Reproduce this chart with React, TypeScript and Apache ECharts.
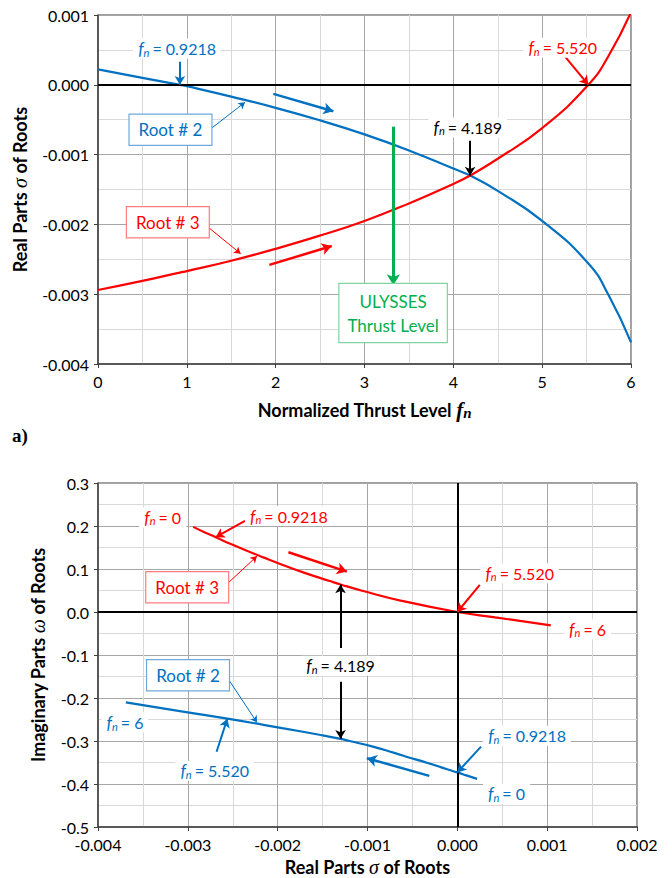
import React, { useEffect, useRef } from "react";
import * as echarts from "echarts";

// Normalized thrust level and the corresponding roots (sigma + i*omega)
const FN = [0, 0.5, 0.9218, 1, 1.5, 2, 2.5, 3, 3.5, 4, 4.189, 4.5, 5, 5.52, 5.75, 6];
const SIGMA_ROOT2 = [0.00022, 0.0001, 0, -0.00002, -0.00017, -0.00033, -0.00051, -0.00071, -0.00094, -0.0012, -0.0013, -0.00152, -0.00195, -0.00256, -0.00302, -0.00369];
const SIGMA_ROOT3 = [-0.00294, -0.00281, -0.00269, -0.00267, -0.00252, -0.00235, -0.00216, -0.00195, -0.0017, -0.00142, -0.0013, -0.00106, -0.00062, 0, 0.00042, 0.00104];
const OMEGA_ROOT2 = [-0.388, -0.38, -0.373, -0.372, -0.362, -0.351, -0.34, -0.327, -0.313, -0.3, -0.295, -0.286, -0.27, -0.248, -0.233, -0.21];
const OMEGA_ROOT3 = [0.198, 0.185, 0.174, 0.172, 0.158, 0.143, 0.127, 0.11, 0.091, 0.072, 0.064, 0.0495, 0.026, 0, -0.0125, -0.031];

// Axis ticks
const FN_TICKS = [0, 6, 1];
const SIGMA_TICKS_TOP = [-0.004, 0.001, 0.001];
const SIGMA_TICKS_BOTTOM = [-0.004, 0.002, 0.001];
const OMEGA_TICKS = [-0.5, 0.3, 0.1];

const BLUE = "#0070C0";
const RED = "#FF0000";
const GREEN = "#00B050";
const FONT = "Lato, 'Open Sans', sans-serif";
const SERIF = "'Liberation Serif', serif";

const idx = (f: number) => FN.indexOf(f);

const fnRich = (color: string) => ({
  f: { fontStyle: "italic", fontSize: 17, color, fontFamily: FONT },
  n: { fontStyle: "italic", fontSize: 11, color, fontFamily: FONT, verticalAlign: "bottom", padding: [7, 3, 0, 0] },
  t: { fontSize: 16, color, fontFamily: FONT },
});

function fnNote(coord: number[], text: string, color: string) {
  return {
    coord,
    symbol: "rect",
    symbolSize: 1,
    itemStyle: { color: "rgba(0,0,0,0)" },
    label: {
      show: true,
      position: "inside",
      formatter: `{f|f}{n|n}{t|= ${text}}`,
      rich: fnRich(color),
      backgroundColor: "#ffffff",
      padding: [1, 5],
    },
  };
}

function boxNote(coord: number[], text: string, color: string, border: string, lineHeight = 20, padding = [5, 9]) {
  return {
    coord,
    symbol: "rect",
    symbolSize: 1,
    itemStyle: { color: "rgba(0,0,0,0)" },
    label: {
      show: true,
      position: "inside",
      formatter: text,
      color,
      fontSize: 17,
      fontFamily: FONT,
      lineHeight,
      backgroundColor: "#ffffff",
      borderColor: border,
      borderWidth: 1.2,
      padding,
      align: "center",
    },
  };
}

function arrow(from: number[], to: number[], color: string, width: number, head: number) {
  return [
    { coord: from, symbol: "none", lineStyle: { color, width, type: "solid" } },
    { coord: to, symbol: "arrow", symbolSize: [head, head * 1.1], lineStyle: { color, width, type: "solid" } },
  ];
}

const axisCommon = {
  type: "value",
  axisLine: { show: true, onZero: false, lineStyle: { color: "#404040", width: 1.5 } },
  axisTick: { show: true, length: 4, lineStyle: { color: "#404040" } },
  axisLabel: { color: "#000", fontSize: 16, fontFamily: FONT, margin: 9 },
  splitLine: { show: true, lineStyle: { color: "#a6a6a6", width: 1 } },
  minorTick: { show: false, splitNumber: 2 },
  minorSplitLine: { show: true, lineStyle: { color: "#d9d9d9", width: 1 } },
  nameLocation: "middle",
};

const boldRich = {
  b: { fontWeight: "bold", fontSize: 18, color: "#000", fontFamily: FONT },
  s: { fontStyle: "italic", fontSize: 20, color: "#000", fontFamily: SERIF },
  f: { fontStyle: "italic", fontWeight: "bold", fontSize: 21, color: "#000", fontFamily: SERIF },
  n: { fontStyle: "italic", fontWeight: "bold", fontSize: 15, color: "#000", fontFamily: SERIF, verticalAlign: "bottom", padding: [6, 0, 0, 0] },
};

const fix3 = (v: number) => (Math.abs(v) < 1e-9 ? "0.000" : v.toFixed(3));
const fix1 = (v: number) => (Math.abs(v) < 1e-9 ? "0.0" : v.toFixed(1));

const curve = (data: number[][], color: string, xAxisIndex: number, name: string) => ({
  name,
  type: "line",
  xAxisIndex,
  yAxisIndex: xAxisIndex,
  data,
  smooth: 0.5,
  showSymbol: false,
  clip: true,
  lineStyle: { color, width: 2.2 },
  z: 4,
});

export default function App() {
  const ref = useRef<HTMLDivElement>(null);

  useEffect(() => {
    if (!ref.current) return;
    const chart = echarts.init(ref.current, null, { renderer: "svg" });

    const top2 = FN.map((f, i) => [f, SIGMA_ROOT2[i]]);
    const top3 = FN.map((f, i) => [f, SIGMA_ROOT3[i]]);
    const bot2 = FN.map((_, i) => [SIGMA_ROOT2[i], OMEGA_ROOT2[i]]);
    const bot3 = FN.map((_, i) => [SIGMA_ROOT3[i], OMEGA_ROOT3[i]]);

    const i0921 = idx(0.9218);
    const i4189 = idx(4.189);
    const i552 = idx(5.52);

    const option = {
      animation: false,
      backgroundColor: "#ffffff",
      textStyle: { fontFamily: FONT },
      grid: [
        { left: 98, top: 15, width: 533, height: 349, show: true, borderColor: "#404040", borderWidth: 1, containLabel: false },
        { left: 98, top: 483, width: 539, height: 344, show: true, borderColor: "#404040", borderWidth: 1, containLabel: false },
      ],
      xAxis: [
        {
          ...axisCommon,
          gridIndex: 0,
          min: FN_TICKS[0],
          max: FN_TICKS[1],
          interval: FN_TICKS[2],
          name: "{b|Normalized Thrust Level }{f|f}{n|n}",
          nameGap: 35,
          nameTextStyle: { rich: boldRich },
        },
        {
          ...axisCommon,
          gridIndex: 1,
          min: SIGMA_TICKS_BOTTOM[0],
          max: SIGMA_TICKS_BOTTOM[1],
          interval: SIGMA_TICKS_BOTTOM[2],
          axisLabel: { ...axisCommon.axisLabel, formatter: fix3 },
          name: "{b|Real Parts }{s|σ}{b| of Roots}",
          nameGap: 30,
          nameTextStyle: { rich: boldRich },
        },
      ],
      yAxis: [
        {
          ...axisCommon,
          gridIndex: 0,
          min: SIGMA_TICKS_TOP[0],
          max: SIGMA_TICKS_TOP[1],
          interval: SIGMA_TICKS_TOP[2],
          axisLabel: { ...axisCommon.axisLabel, formatter: fix3 },
          name: "{b|Real Parts }{s|σ}{b| of Roots}",
          nameGap: 68,
          nameTextStyle: { rich: boldRich },
        },
        {
          ...axisCommon,
          gridIndex: 1,
          min: OMEGA_TICKS[0],
          max: OMEGA_TICKS[1],
          interval: OMEGA_TICKS[2],
          axisLabel: { ...axisCommon.axisLabel, formatter: fix1 },
          name: "{b|Imaginary Parts }{s|ω}{b| of Roots}",
          nameGap: 50,
          nameTextStyle: { rich: boldRich },
        },
      ],
      series: [
        // ---- top panel: sigma vs normalized thrust ----
        curve(top2, BLUE, 0, "Root # 2"),
        curve(top3, RED, 0, "Root # 3"),
        {
          name: "top notes",
          type: "line",
          xAxisIndex: 0,
          yAxisIndex: 0,
          data: [],
          z: 5,
          markLine: {
            silent: true,
            animation: false,
            label: { show: false },
            symbol: ["none", "none"],
            data: [
              [
                { coord: [FN_TICKS[0], 0], symbol: "none", lineStyle: { color: "#000", width: 2, type: "solid" } },
                { coord: [FN_TICKS[1], 0], symbol: "none", lineStyle: { color: "#000", width: 2, type: "solid" } },
              ],
              arrow([FN[i0921], 0.00033], [FN[i0921], SIGMA_ROOT2[i0921]], BLUE, 2, 8),
              arrow([1.26, -0.00064], [1.655, -0.00025], BLUE, 1, 6),
              arrow([1.974, -0.00013], [2.649, -0.00038], BLUE, 2.5, 9),
              arrow([FN[i4189], -0.0008], [FN[i4189], SIGMA_ROOT2[i4189]], "#000", 2, 8),
              arrow([5.26, 0.0004], [FN[i552], SIGMA_ROOT3[i552]], RED, 2, 8),
              arrow([1.23, -0.00203], [1.606, -0.00242], RED, 1, 6),
              arrow([1.929, -0.00258], [2.631, -0.00231], RED, 2.5, 9),
              arrow([3.325, -0.0006], [3.325, -0.00287], GREEN, 3, 10),
            ],
          },
          markPoint: {
            silent: true,
            animation: false,
            data: [
              fnNote([0.89, 0.00052], "0.9218", BLUE),
              fnNote([4.162, -0.00061], "4.189", "#000"),
              fnNote([5.231, 0.00053], "5.520", RED),
              boxNote([0.816, -0.000645], "Root # 2", BLUE, "#6fa8dc"),
              boxNote([0.786, -0.00197], "Root # 3", RED, "#ff7c80"),
              boxNote([3.322, -0.00327], "ULYSSES\nThrust Level", GREEN, "#7fd4a0", 24, [5, 8]),
            ],
          },
        },
        // ---- bottom panel: root locus ----
        curve(bot2, BLUE, 1, "Root # 2 locus"),
        curve(bot3, RED, 1, "Root # 3 locus"),
        {
          name: "bottom notes",
          type: "line",
          xAxisIndex: 1,
          yAxisIndex: 1,
          data: [],
          z: 5,
          markLine: {
            silent: true,
            animation: false,
            label: { show: false },
            symbol: ["none", "none"],
            data: [
              [
                { coord: [SIGMA_TICKS_BOTTOM[0], 0], symbol: "none", lineStyle: { color: "#000", width: 2, type: "solid" } },
                { coord: [SIGMA_TICKS_BOTTOM[1], 0], symbol: "none", lineStyle: { color: "#000", width: 2, type: "solid" } },
              ],
              [
                { coord: [0, OMEGA_TICKS[0]], symbol: "none", lineStyle: { color: "#000", width: 2, type: "solid" } },
                { coord: [0, OMEGA_TICKS[1]], symbol: "none", lineStyle: { color: "#000", width: 2, type: "solid" } },
              ],
              arrow([-0.002364, 0.212], [SIGMA_ROOT3[i0921], OMEGA_ROOT3[i0921]], RED, 2, 8),
              arrow([-0.002575, 0.063], [-0.00223, 0.13], RED, 1, 6),
              arrow([-0.00188, 0.139], [-0.00123, 0.094], RED, 2.5, 9),
              arrow([SIGMA_ROOT3[i4189], -0.084], [SIGMA_ROOT3[i4189], OMEGA_ROOT3[i4189]], "#000", 2, 8),
              arrow([SIGMA_ROOT2[i4189], -0.162], [SIGMA_ROOT2[i4189], OMEGA_ROOT2[i4189]], "#000", 2, 8),
              arrow([0.00025, 0.063], [SIGMA_ROOT3[i552], OMEGA_ROOT3[i552]], RED, 2, 8),
              arrow([-0.002567, -0.1505], [-0.00223, -0.257], BLUE, 1, 6),
              arrow([-0.00268, -0.325], [SIGMA_ROOT2[i552], OMEGA_ROOT2[i552]], BLUE, 2, 8),
              arrow([-0.000312, -0.381], [-0.001007, -0.34], BLUE, 2.5, 9),
              arrow([0.000264, -0.313], [SIGMA_ROOT2[i0921], OMEGA_ROOT2[i0921]], BLUE, 2, 8),
            ],
          },
          markPoint: {
            silent: true,
            animation: false,
            data: [
              fnNote([-0.00328, 0.22], "0", RED),
              fnNote([-0.001874, 0.223], "0.9218", RED),
              fnNote([SIGMA_ROOT3[i4189], -0.125], "4.189", "#000"),
              fnNote([0.000694, 0.09], "5.520", RED),
              fnNote([0.00145, -0.04], "6", RED),
              fnNote([-0.0037, -0.257], "6", BLUE),
              fnNote([-0.002701, -0.369], "5.520", BLUE),
              fnNote([0.000776, -0.288], "0.9218", BLUE),
              fnNote([0.000547, -0.423], "0", BLUE),
              boxNote([-0.003007, 0.0574], "Root # 3", RED, "#ff7c80"),
              boxNote([-0.002998, -0.147], "Root # 2", BLUE, "#6fa8dc"),
            ],
          },
        },
      ],
      graphic: [
        {
          type: "text",
          left: 12,
          top: 426,
          style: {
            text: "a)",
            font: "bold 19px 'Liberation Serif', serif",
            fill: "#000",
          },
        },
      ],
    };

    chart.setOption(option as any);
    return () => chart.dispose();
  }, []);

  return (
    <div
      ref={ref}
      style={{ position: "absolute", left: 0, top: 0, width: 672, height: 878, background: "#fff" }}
    />
  );
}
